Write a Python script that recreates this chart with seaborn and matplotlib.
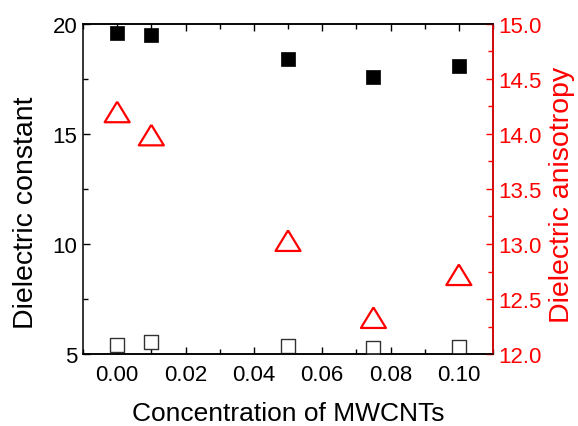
import numpy as np
import pandas as pd
import seaborn as sns
import matplotlib.pyplot as plt
from matplotlib.ticker import MultipleLocator

conc = [0.0, 0.01, 0.05, 0.075, 0.10]
eps_par = [19.6, 19.5, 18.4, 17.6, 18.1]
eps_perp = [5.41, 5.53, 5.38, 5.27, 5.30]
anisotropy = [14.2, 13.99, 13.03, 12.33, 12.72]

df = pd.DataFrame({"conc": conc, "par": eps_par, "perp": eps_perp, "aniso": anisotropy})

sns.set_style("ticks")
plt.rcParams['font.family'] = ['Liberation Sans', 'DejaVu Sans']
plt.rcParams['text.color'] = 'black'
plt.rcParams['axes.labelcolor'] = 'black'
plt.rcParams['xtick.color'] = 'black'
plt.rcParams['ytick.color'] = 'black'
plt.rcParams['axes.edgecolor'] = 'black'

fig = plt.figure(figsize=(5.78, 4.27), dpi=100)
ax = fig.add_axes([0.1436, 0.1686, 0.853 - 0.1436, 0.9415 - 0.1686])
ax2 = ax.twinx()

sns.scatterplot(data=df, x="conc", y="par", ax=ax, marker="s", s=100,
                color="black", edgecolor="black", linewidth=0.5, zorder=3)
sns.scatterplot(data=df, x="conc", y="perp", ax=ax, marker="s", s=100,
                facecolor="white", edgecolor="#333333", linewidth=1.0, zorder=3)
tri = [(0, 0.82), (-1, -0.82), (1, -0.82), (0, 0.82)]
sns.scatterplot(data=df, x="conc", y="aniso", ax=ax2, marker=tri, s=324,
                facecolor="none", edgecolor="red", linewidth=1.6, zorder=3)

ax.set_xlim(-0.01, 0.11)
ax.set_ylim(5, 20)
ax2.set_ylim(12.0, 15.0)

ax.xaxis.set_major_locator(MultipleLocator(0.02))
ax.xaxis.set_minor_locator(MultipleLocator(0.01))
ax.yaxis.set_major_locator(MultipleLocator(5))
ax.yaxis.set_minor_locator(MultipleLocator(2.5))
ax2.yaxis.set_major_locator(MultipleLocator(0.5))
ax2.yaxis.set_minor_locator(MultipleLocator(0.25))
ax.xaxis.set_major_formatter(plt.FormatStrFormatter('%.2f'))
ax2.yaxis.set_major_formatter(plt.FormatStrFormatter('%.1f'))

ax.tick_params(axis='x', which='both', direction='in', top=True, bottom=True,
               labelsize=16, color='black', labelcolor='black', pad=7)
ax.tick_params(axis='y', which='both', direction='in', left=True, right=False,
               labelsize=16, color='black', labelcolor='black', pad=4)
ax.tick_params(which='major', length=5, width=1)
ax.tick_params(which='minor', length=3.5, width=1)
ax2.tick_params(axis='y', which='both', direction='in', colors='red',
                labelsize=16, pad=4)
ax2.tick_params(which='major', length=5, width=1)
ax2.tick_params(which='minor', length=3.5, width=1)

for sp in ax.spines.values():
    sp.set_linewidth(1.1)
    sp.set_visible(True)
for sp in ax2.spines.values():
    sp.set_linewidth(1.1)
    sp.set_visible(True)
ax2.spines['right'].set_color('red')
ax2.spines['left'].set_visible(False)

ax.set_xlabel("Concentration of MWCNTs", fontsize=19, labelpad=12)
ax.set_ylabel("Dielectric constant", fontsize=20.5, labelpad=10)
ax.yaxis.label.set_y(0.43)
ax2.set_ylabel("Dielectric anisotropy", fontsize=20.5, color='red', labelpad=5)
ax2.yaxis.label.set_y(0.485)

fig.savefig("out.png", dpi=100)
